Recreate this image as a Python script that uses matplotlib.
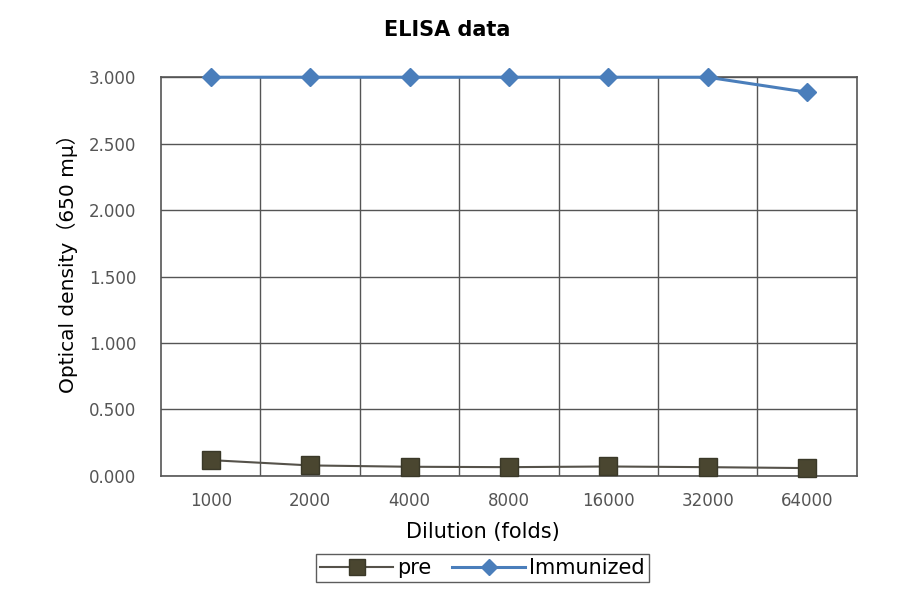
import matplotlib
matplotlib.use("Agg")
import matplotlib.pyplot as plt

plt.rcParams['font.family'] = ['DejaVu Sans', 'Noto Sans CJK JP']

dilutions = ['1000', '2000', '4000', '8000', '16000', '32000', '64000']
pre = [0.118, 0.078, 0.068, 0.065, 0.070, 0.065, 0.058]
immunized = [3.000, 3.000, 3.000, 3.000, 3.000, 3.000, 2.887]

fig = plt.figure(figsize=(9, 5.94), dpi=100)
ax = fig.add_axes([0.179, 0.199, 0.773, 0.671])

x = list(range(len(dilutions)))
ax.plot(x, pre, color='#55524a', lw=1.5, marker='s', ms=13,
        mfc='#4a4630', mec='#3a3828', label='pre', clip_on=False, zorder=3)
ax.plot(x, immunized, color='#4a7ebb', lw=2.2, marker='D', ms=9,
        mfc='#4a7ebb', mec='#4a7ebb', label='Immunized', clip_on=False, zorder=4)

ax.set_xlim(-0.5, len(dilutions) - 0.5)
ax.set_ylim(0, 3.0)
ax.set_yticks([0, 0.5, 1.0, 1.5, 2.0, 2.5, 3.0])
ax.set_yticklabels(['%.3f' % v for v in [0, 0.5, 1.0, 1.5, 2.0, 2.5, 3.0]])
ax.set_xticks(x)
ax.set_xticklabels(dilutions)
ax.set_xticks([i + 0.5 for i in range(len(dilutions) - 1)], minor=True)

ax.grid(axis='y', which='major', color='#555555', lw=1.0)
ax.grid(axis='x', which='minor', color='#555555', lw=1.0)
ax.set_axisbelow(True)
for s in ax.spines.values():
    s.set_color('#555555')
    s.set_linewidth(1.2)
ax.tick_params(which='both', length=0)
ax.tick_params(axis='y', labelsize=12, labelcolor='#555555', pad=18)
ax.tick_params(axis='x', labelsize=12, labelcolor='#555555', pad=12)

fig.text(0.497, 0.949, 'ELISA data', fontsize=15, fontweight='bold',
         ha='center', va='center')
ax.set_ylabel('Optical density（650 mμ）', fontsize=14.5)
ax.yaxis.set_label_coords(-0.12, 0.545)
ax.set_xlabel('Dilution (folds)', fontsize=15)
ax.xaxis.set_label_coords(0.462, -0.115)

leg = ax.legend(loc='upper center', bbox_to_anchor=(0.462, -0.18), ncol=2,
                fontsize=15, frameon=True, fancybox=False, handlelength=3.5,
                columnspacing=1.0, handletextpad=0.2, borderpad=0.2,
                borderaxespad=0.3, markerscale=0.85)
leg.get_frame().set_edgecolor('#333333')
leg.get_frame().set_linewidth(1.0)

fig.savefig('out.png', dpi=100)
